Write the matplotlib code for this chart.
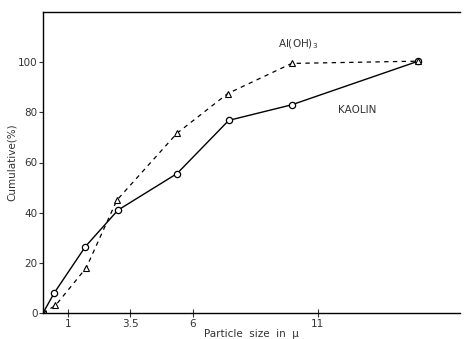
import matplotlib.pyplot as plt

# Kaolin (circles, solid line)
kaolin_x = [0, 0.45, 1.7, 3.0, 5.37, 7.44, 9.96, 15.03]
kaolin_y = [0, 8, 26.5, 41, 55.6, 76.8, 83, 100.4]

# Al(OH)3 (triangles, dashed line)
aloh_x = [0, 0.5, 1.73, 2.96, 5.37, 7.4, 9.96, 15.03]
aloh_y = [0, 3, 18, 45, 71.7, 87.5, 99.5, 100.4]

x_ticks = [1, 3.5, 6, 11]
x_tick_labels = ["1", "3.5", "6", "11"]
y_ticks = [0, 20, 40, 60, 80, 100]


def main():
    fig = plt.figure(figsize=(4.69, 3.39), dpi=100)
    ax = fig.add_axes([43 / 469, 26 / 339, 417 / 469, 301 / 339])

    ax.plot(kaolin_x, kaolin_y, color="black", lw=1.0, marker="o",
            ms=4.5, mfc="white", mec="black", mew=0.9)
    ax.plot(aloh_x, aloh_y, color="black", lw=0.9, ls=(0, (3.5, 3.5)),
            marker="^", ms=4.5, mfc="white", mec="black", mew=0.8)

    ax.text(10.2, 107, "Al(OH)$_3$", fontsize=7.5, ha="center",
            va="center", color="#333333")
    ax.text(12.6, 81, "KAOLIN", fontsize=7.5, ha="center",
            va="center", color="#333333")

    ax.set_xlim(0, 16.7)
    ax.set_ylim(0, 120)
    ax.set_xticks(x_ticks)
    ax.set_xticklabels(x_tick_labels)
    ax.set_yticks(y_ticks)
    ax.tick_params(axis="x", direction="inout", length=6, labelsize=7.5,
                   pad=1, colors="#333333")
    ax.tick_params(axis="y", direction="out", length=3, labelsize=7.5,
                   pad=1, colors="#333333")

    ax.spines["right"].set_visible(False)
    for side in ["left", "bottom", "top"]:
        ax.spines[side].set_linewidth(1.0)

    ax.set_xlabel("Particle  size  in  \u03bc", fontsize=7.5, labelpad=0,
                  color="#333333")
    ax.set_ylabel("Cumulative(%)", fontsize=7.5, labelpad=1,
                  color="#333333")

    fig.savefig("out.png", dpi=100)


if __name__ == "__main__":
    main()
